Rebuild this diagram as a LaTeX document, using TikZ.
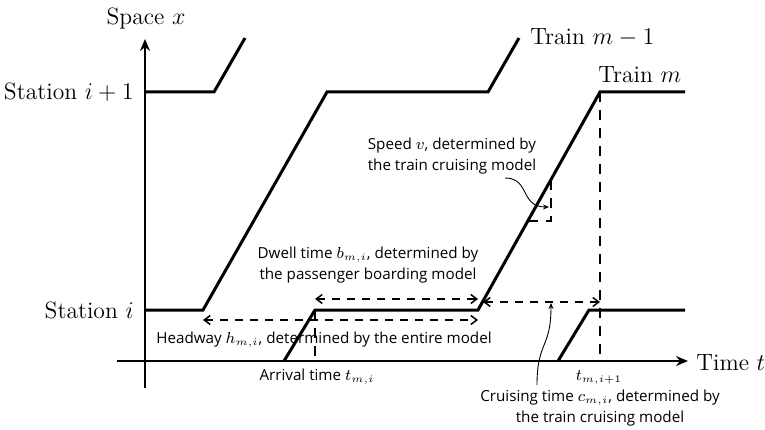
\documentclass[tikz,border=0pt]{standalone}
\usepackage{amsmath}
\usepackage{fontspec}
\newfontfamily\notefont{Open Sans}
\usetikzlibrary{arrows.meta, positioning, calc}
\tikzset{%
	traj/.style={line width=1.5pt, line join=miter},
	axis/.style={line width=1pt, -{Stealth[length=6pt, width=5pt]}},
	guide/.style={line width=0.8pt, dash pattern=on 5pt off 4pt},
	span/.style={line width=0.75pt, dash pattern=on 4pt off 3.5pt,%
		{Straight Barb[length=3pt, width=4.5pt]}-{Straight Barb[length=3pt, width=4.5pt]}},
	callout/.style={line width=0.45pt, -{Stealth[length=3pt, width=2.5pt]}},
	axtext/.style={font=\fontsize{11.8}{14}\selectfont, inner sep=0pt},
	note/.style={font=\notefont\fontsize{7.6}{10.5}\selectfont, align=center, inner sep=0pt}
}
\begin{document}
\begin{tikzpicture}[x=0.5pt, y=0.5pt]
	\useasboundingbox (0,0) rectangle (765,429);

	\coordinate (o) at (145,68);
	\coordinate (xs) at (117,68);
	\coordinate (xe) at (688,68);
	\coordinate (ys) at (145,41);
	\coordinate (ye) at (145,390);
	\draw[axis] (xs) -- (xe);
	\draw[axis] (ys) -- (ye);

	\coordinate (a1) at (145,337);
	\coordinate (a2) at (214,337);
	\coordinate (a3) at (245,391);
	\coordinate (b1) at (145,119);
	\coordinate (b2) at (203,119);
	\coordinate (b3) at (327,337);
	\coordinate (b4) at (488,337);
	\coordinate (b5) at (519,391);
	\coordinate (c1) at (284,68);
	\coordinate (c2) at (315,119);
	\coordinate (c3) at (478,119);
	\coordinate (c4) at (600,337);
	\coordinate (c5) at (685,337);
	\coordinate (d1) at (558,68);
	\coordinate (d2) at (589,119);
	\coordinate (d3) at (685,119);
	\draw[traj] (a1) -- (a2) -- (a3);
	\draw[traj] (b1) -- (b2) -- (b3) -- (b4) -- (b5);
	\draw[traj] (c1) -- (c2) -- (c3) -- (c4) -- (c5);
	\draw[traj] (d1) -- (d2) -- (d3);

	\draw[guide] (c2) -- (c2 |- o);
	\draw[guide] (c4) -- (c4 |- o);
	\coordinate (s1) at (528,208);
	\coordinate (s2) at (551,208);
	\coordinate (s3) at (551,249);
	\draw[guide] (s1) -- (s2) -- (s3);

	\draw[span] ($(c2)+(0,11)$) -- ($(c3)+(0,11)$);
	\draw[span] ($(b2)+(0,-10)$) -- ($(c3)+(0,-10)$);
	\draw[span] (483,127) -- ($(c4 |- 0,127)$);

	\node[axtext] (space) at (146,411) {Space $x$};
	\node[axtext, anchor=east] (st2) at (134,337) {Station $i+1$};
	\node[axtext, anchor=east] (st1) at (134,119) {Station $i$};
	\node[axtext, anchor=west] (time) at (696,66) {Time $t$};
	\node[axtext, anchor=west] (tr1) at (530,391) {Train $m-1$};
	\node[axtext, anchor=west] (tr2) at (598,354) {Train $m$};

	\node[note] (speed) at (452,273) {Speed $v$, determined by\\the train cruising model};
	\node[note] (dwell) at (368,163.5) {Dwell time $b_{m,i}$, determined by\\the passenger boarding model};
	\node[note] (head) at (324,89) {Headway $h_{m,i}$, determined by the entire model};
	\node[note] (arr) at (317,52) {Arrival time $t_{m,i}$};
	\node[note] (tnext) at (599,51) {$t_{m,i+1}$};
	\node[note] (cruise) at (600,21) {Cruising time $c_{m,i}$, determined by\\the train cruising model};

	\coordinate (p1) at (505,251);
	\coordinate (p2) at (549,222);
	\draw[callout] (p1) .. controls (530,251) and (520,222) .. (p2);
	\coordinate (q1) at (537,44);
	\coordinate (q2) at (551,126);
	\draw[callout] (q1) .. controls (537,88) and (551,80) .. (q2);
\end{tikzpicture}
\end{document}
